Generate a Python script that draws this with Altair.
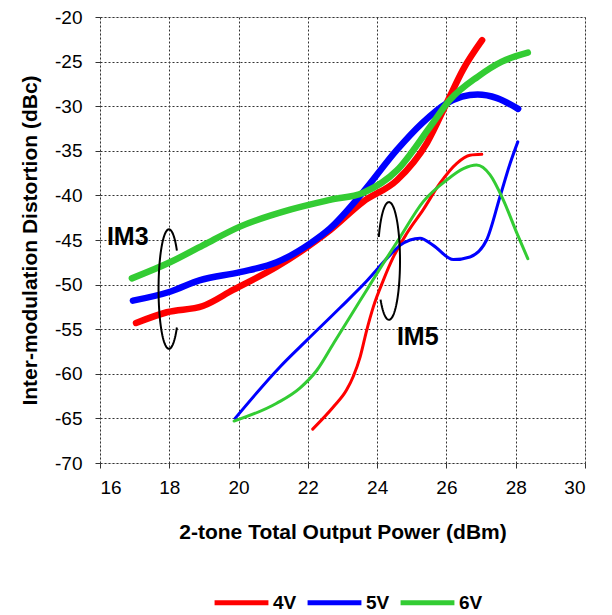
import altair as alt
import pandas as pd
import numpy as np

# ---- data ----
im3_4v_x = [17.04, 17.93, 18.97, 19.84, 21.1, 21.98, 22.64, 23.6, 24.57, 25.44, 26.05, 26.48, 27.03]
im3_4v_y = [-54.3, -53.1, -52.4, -50.6, -48.0, -45.8, -43.9, -40.7, -38.3, -34.1, -29.3, -25.9, -22.6]

im3_5v_x = [16.95, 18.02, 18.89, 20.04, 21.1, 22.06, 22.64, 23.6, 24.57, 25.3, 26.0, 26.9, 27.46, 28.07]
im3_5v_y = [-51.8, -50.8, -49.5, -48.6, -47.5, -45.4, -43.7, -39.6, -34.9, -31.9, -29.7, -28.7, -29.1, -30.3]

im3_6v_x = [16.92, 18.02, 18.97, 20.04, 21.49, 22.64, 23.6, 24.57, 25.53, 26.1, 26.9, 27.6, 28.35]
im3_6v_y = [-49.3, -47.5, -45.6, -43.5, -41.6, -40.5, -39.7, -37.2, -32.3, -29.3, -26.7, -25.0, -24.0]

im5_4v_x = [22.14, 22.74, 23.12, 23.31, 23.51, 23.70, 23.89, 24.18, 24.47, 24.85, 25.33, 25.82, 26.3, 26.68, 27.02]
im5_4v_y = [-66.2, -63.7, -61.8, -60.3, -58.1, -55.1, -52.5, -49.5, -46.9, -44.3, -41.6, -38.6, -36.4, -35.5, -35.4]

im5_5v_x = [19.9, 21.2, 21.98, 22.93, 23.7, 24.37, 24.66, 25.24, 25.62, 26.2, 26.68, 27.16, 27.55, 27.84, 28.06]
im5_5v_y = [-65.0, -59.2, -56.2, -52.6, -49.6, -46.7, -45.6, -44.8, -45.6, -47.2, -46.9, -45.0, -40.1, -36.4, -34.0]

im5_6v_x = [19.87, 21.1, 21.77, 22.26, 22.74, 23.22, 23.70, 24.18, 24.66, 25.33, 26.0, 26.49, 26.87, 27.26, 27.64, 28.03, 28.35]
im5_6v_y = [-65.3, -63.3, -61.6, -59.6, -56.6, -53.6, -50.6, -47.6, -44.7, -40.7, -38.3, -37.0, -36.6, -37.7, -40.5, -44.2, -47.1]

voltages = ["4V", "5V", "6V"]
colors = ["#FF0000", "#0000FF", "#33CC33"]
x_ticks = [16, 18, 20, 22, 24, 26, 28, 30]
y_ticks = [-70, -65, -60, -55, -50, -45, -40, -35, -30, -25, -20]

series = [
    ("IM3", "4V", im3_4v_x, im3_4v_y),
    ("IM3", "5V", im3_5v_x, im3_5v_y),
    ("IM3", "6V", im3_6v_x, im3_6v_y),
    ("IM5", "4V", im5_4v_x, im5_4v_y),
    ("IM5", "5V", im5_5v_x, im5_5v_y),
    ("IM5", "6V", im5_6v_x, im5_6v_y),
]
rows = []
for kind, v, xs, ys in series:
    for i, (x, y) in enumerate(zip(xs, ys)):
        rows.append({"kind": kind, "volt": v, "sid": kind + v, "x": x, "y": y, "i": i})
df = pd.DataFrame(rows)

# annotation ellipses (open arcs)
def arc(cx, cy, rx, ry, a0, a1, name):
    t = np.radians(np.linspace(a0, a1, 80))
    return pd.DataFrame({"x": cx + rx * np.cos(t), "y": cy + ry * np.sin(t),
                         "i": np.arange(80), "name": name})

ell = pd.concat([arc(17.99, -50.5, 0.30, 6.7, 40, 320, "e3"),
                 arc(24.34, -47.35, 0.32, 6.6, 221, 516, "e5")])

labels = pd.DataFrame({"x": [16.2, 24.57], "y": [-44.7, -55.9], "t": ["IM3", "IM5"]})

xs = alt.Scale(domain=[16, 30], nice=False)
ys = alt.Scale(domain=[-70, -20], nice=False)

common = dict(labelFontSize=19, titleFontSize=21, titleFontWeight="bold",
              grid=True, gridDash=[2, 2], gridColor="#333", gridWidth=1,
              tickColor="#333", tickSize=5, domain=False, labelColor="black",
              titleColor="black", labelExpr="'' + datum.value")
xaxis = alt.Axis(values=x_ticks, title="2-tone Total Output Power (dBm)",
                 labelPadding=10, titlePadding=24, **common)
yaxis = alt.Axis(values=y_ticks, title="Inter-modulation Distortion (dBc)",
                 labelPadding=13, titlePadding=14, **common)

lines = alt.Chart(df).mark_line(interpolate="monotone", strokeCap="round").encode(
    x=alt.X("x:Q", scale=xs, axis=xaxis),
    y=alt.Y("y:Q", scale=ys, axis=yaxis),
    color=alt.Color("volt:N", scale=alt.Scale(domain=voltages, range=colors),
                    legend=alt.Legend(title=None, orient="none", direction="horizontal",
                                      legendX=112, legendY=556, symbolType="stroke",
                                      symbolSize=2900, symbolStrokeWidth=5,
                                      labelFontSize=19, labelFontWeight="bold",
                                      labelColor="black", columnPadding=0, labelOffset=2)),
    strokeWidth=alt.StrokeWidth("kind:N", scale=alt.Scale(domain=["IM3", "IM5"], range=[6.5, 3]),
                                legend=None),
    detail="sid:N",
    order="i:Q",
)

ellipses = alt.Chart(ell).mark_line(color="black", strokeWidth=2).encode(
    x=alt.X("x:Q", scale=xs), y=alt.Y("y:Q", scale=ys), detail="name:N", order="i:Q")

texts = alt.Chart(labels).mark_text(fontSize=25, fontWeight="bold", color="black",
                                    align="left", baseline="middle").encode(
    x=alt.X("x:Q", scale=xs), y=alt.Y("y:Q", scale=ys), text="t:N")

chart = alt.layer(lines, ellipses, texts).properties(
    width=485, height=446,
    autosize=alt.AutoSizeParams(type="none"),
    padding={"left": 92, "top": 9, "right": 19, "bottom": 150},
).configure_view(stroke="black", strokeWidth=4).configure(font="Liberation Sans")

chart.save("out.html", embed_options={"renderer": "svg", "actions": False})
